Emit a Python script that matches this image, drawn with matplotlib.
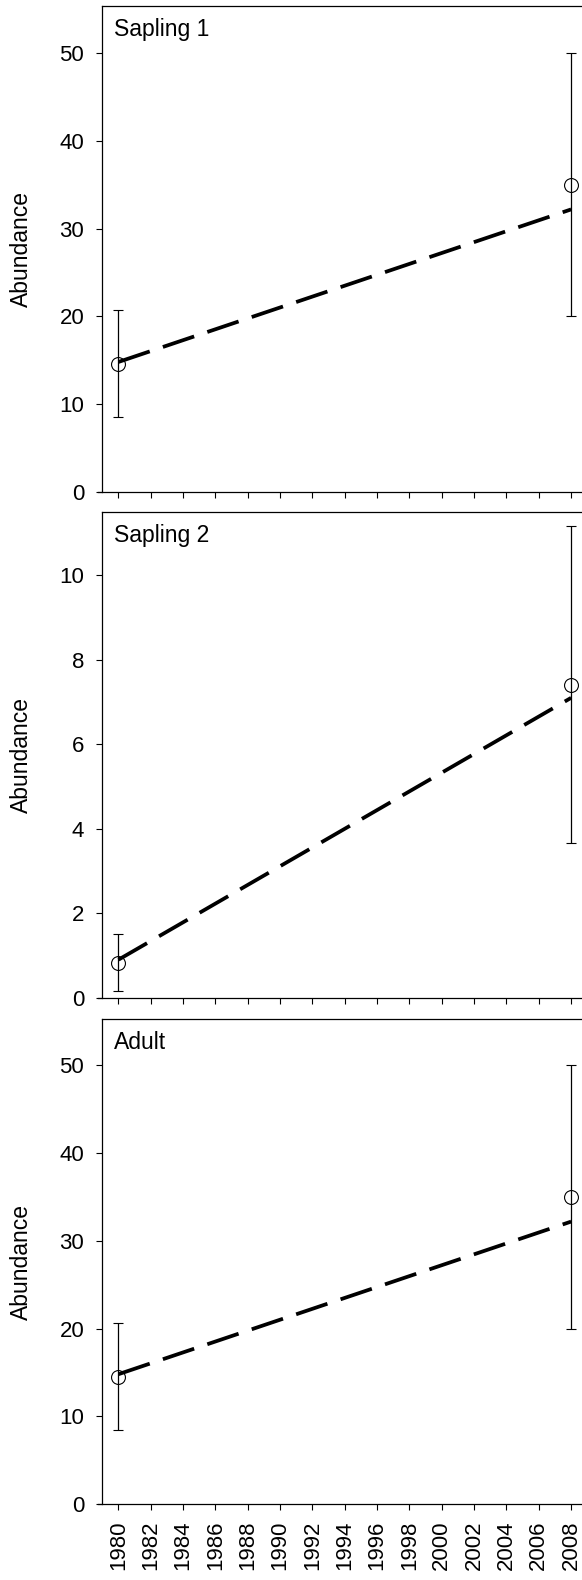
import matplotlib
matplotlib.use('Agg')
import matplotlib.pyplot as plt
import numpy as np

plt.rcParams['font.family'] = ['Liberation Sans', 'DejaVu Sans']

years = [1980, 2008]
xticks = list(range(1980, 2009, 2))

panel_names = ['Sapling 1', 'Sapling 2', 'Adult']
means = [[14.6, 35.0], [0.83, 7.41], [14.5, 35.0]]
errs = [[6.1, 15.0], [0.67, 3.75], [6.1, 15.0]]
fits = [[14.8, 32.2], [0.9, 7.1], [14.8, 32.2]]
yticks = [np.arange(0, 51, 10), np.arange(0, 11, 2), np.arange(0, 51, 10)]
ylims = [(0, 55.4), (0, 11.5), (0, 55.3)]


def main():
    fig = plt.figure(figsize=(5.82, 15.8), dpi=100)
    W, H = 582.0, 1580.0
    # panel top/bottom in pixels from the top of the image
    rows = [(6, 491.7), (512, 997.7), (1019, 1504)]
    left, right = 102.3, 587.3

    for i, (top, bot) in enumerate(rows):
        ax = fig.add_axes([left / W, (H - bot) / H, (right - left) / W, (bot - top) / H])
        ax.plot(years, fits[i], color='black', lw=2.7, dashes=(8.8, 3.7), zorder=2)
        ax.errorbar(years, means[i], yerr=errs[i], fmt='o', color='black',
                    mfc='none', mec='black', ms=10, mew=0.8,
                    elinewidth=0.9, capsize=3.6, capthick=0.9, zorder=3)
        ax.set_xlim(1979, 2009)
        ax.set_ylim(*ylims[i])
        ax.set_yticks(yticks[i])
        ax.set_xticks(xticks)
        for s in ax.spines.values():
            s.set_linewidth(0.9)
        ax.spines['bottom'].set_bounds(1978.73, 2009)
        ax.tick_params(direction='out', length=4, width=0.8, labelsize=16)
        ax.tick_params(axis='y', pad=9)
        ax.tick_params(axis='x', pad=8)
        if i < 2:
            ax.set_xticklabels([])
        else:
            ax.set_xticklabels([str(x) for x in xticks], rotation=90)
        ax.set_ylabel('Abundance', fontsize=16.5)
        ax.yaxis.set_label_coords(-0.143, 0.5)
        ax.text(0.025, 0.975, panel_names[i], transform=ax.transAxes,
                ha='left', va='top', fontsize=16.5)

    fig.savefig('out.png', dpi=100)


if __name__ == "__main__":
    main()
